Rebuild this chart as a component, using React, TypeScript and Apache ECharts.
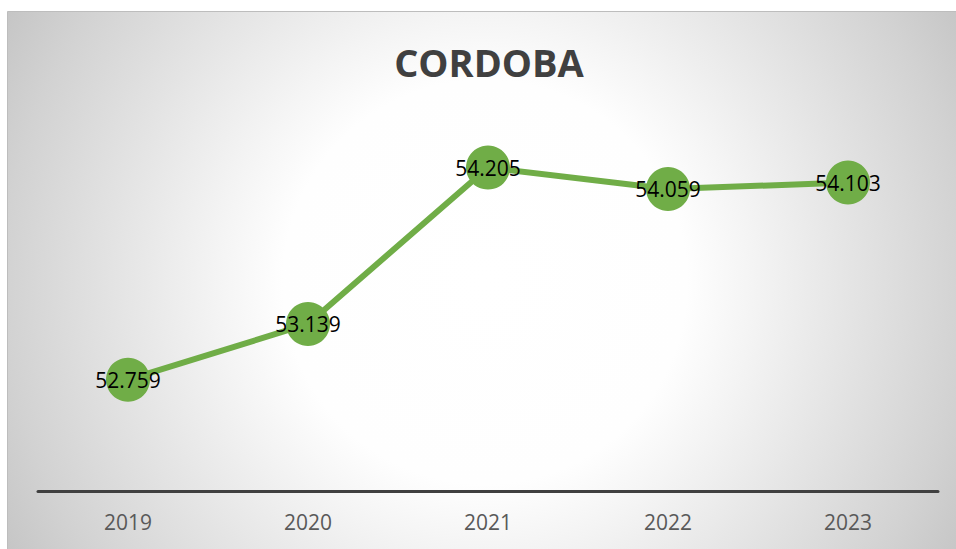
import React, { useEffect, useRef } from "react";
import * as echarts from "echarts";

const categories = ["2019", "2020", "2021", "2022", "2023"];
const values = [52.759, 53.139, 54.205, 54.059, 54.103];
const labels = ["52.759", "53.139", "54.205", "54.059", "54.103"];
const title = "CORDOBA";

export default function App() {
  const ref = useRef<HTMLDivElement>(null);
  useEffect(() => {
    document.body.style.margin = "0";
    const chart = echarts.init(ref.current!, null, { renderer: "svg" });
    chart.setOption({
      animation: false,
      graphic: [
        {
          type: "rect",
          z: -10,
          silent: true,
          shape: { x: 7.5, y: 11.5, width: 950, height: 540 },
          style: {
            fill: new echarts.graphic.RadialGradient(
              485,
              282,
              546,
              [
                { offset: 0, color: "#ffffff" },
                { offset: 0.37, color: "#fefefe" },
                { offset: 0.49, color: "#f4f4f4" },
                { offset: 0.88, color: "#d2d2d2" },
                { offset: 1, color: "#c6c6c6" },
              ],
              true
            ),
            stroke: "#bdbdbd",
            lineWidth: 1,
          },
        },
        {
          type: "text",
          z: 10,
          style: {
            text: title,
            x: 489,
            y: 62,
            align: "center",
            verticalAlign: "middle",
            fill: "#404040",
            font: "bold 38px 'Open Sans', sans-serif",
          },
        },
      ],
      grid: { left: 38, right: 18, top: 51, bottom: 58 },
      xAxis: {
        type: "category",
        data: categories,
        boundaryGap: true,
        axisLine: { show: true, lineStyle: { color: "#404040", width: 3 } },
        axisTick: { show: false },
        axisLabel: {
          color: "#595959",
          fontSize: 21,
          fontFamily: "'Open Sans', sans-serif",
          margin: 20,
        },
        splitLine: { show: false },
      },
      yAxis: {
        type: "value",
        min: 52,
        max: 55,
        show: false,
        splitLine: { show: false },
      },
      series: [
        {
          type: "line",
          data: values,
          symbol: "circle",
          symbolSize: 44,
          lineStyle: { color: "#70AD47", width: 6 },
          itemStyle: { color: "#70AD47" },
          label: {
            show: true,
            position: "inside",
            color: "#000000",
            fontSize: 21,
            fontFamily: "'Open Sans', sans-serif",
            formatter: (p: any) => labels[p.dataIndex],
          },
        },
      ],
    });
    return () => chart.dispose();
  }, []);
  return <div ref={ref} style={{ width: 956, height: 549 }} />;
}
